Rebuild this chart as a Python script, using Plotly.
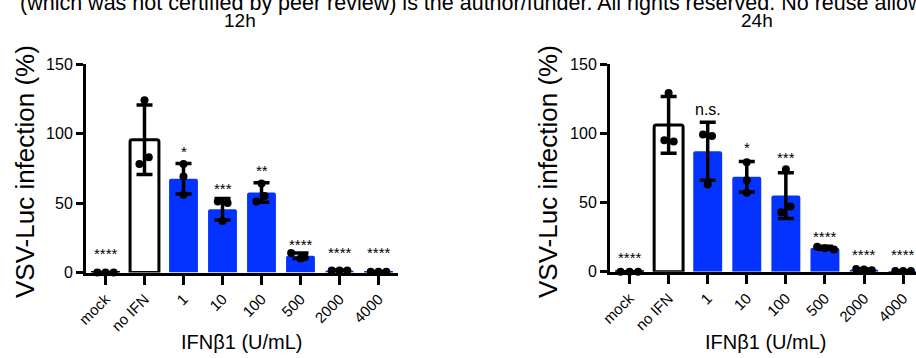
import plotly.graph_objects as go

# ---------------- data ----------------
categories = ["mock", "no IFN", "1", "10", "100", "500", "2000", "4000"]

mean_12h = [0, 95.5, 67.5, 45.5, 57.5, 12.0, 1.5, 0.5]
sd_12h = [0, 25.0, 11.0, 7.8, 7.0, 2.0, 0.3, 0.2]
pts_12h = [
    [0, 0, 0],
    [124, 78, 83],
    [78, 69, 56],
    [51, 50, 37],
    [64, 55, 51],
    [14, 11, 10],
    [1.5, 1.5, 1.5],
    [0.5, 0.5, 0.5],
]
sig_12h = ["****", "", "*", "***", "**", "****", "****", "****"]

mean_24h = [0, 106.0, 87.0, 68.5, 55.0, 17.3, 1.5, 0.5]
sd_24h = [0, 20.5, 21.0, 11.0, 16.5, 1.0, 0.5, 0.2]
pts_24h = [
    [0, 0, 0],
    [129, 95, 94],
    [99, 98, 63],
    [79, 66, 57],
    [74, 47, 43],
    [18, 17, 16],
    [2, 1.5, 1],
    [0.5, 0.5, 0.5],
]
sig_24h = ["****", "", "n.s.", "*", "***", "****", "****", "****"]

header_text = ("(which was not certified by peer review) is the author/funder. "
               "All rights reserved. No reuse allowed without permission.")

# ---------------- style / layout constants ----------------
FONT = "Liberation Sans, Arial, Helvetica, sans-serif"
BLUE = "rgb(4,51,255)"
# horizontal jitter of replicate dots (layout only)
jit_12h = [[-0.21, 0, 0.21], [0, -0.13, 0.11], [0, 0, 0], [-0.12, 0.13, 0],
           [0, 0.08, -0.13], [-0.24, 0.1, 0], [-0.2, 0, 0.2], [-0.2, 0, 0.2]]
jit_24h = [[-0.23, 0, 0.22], [0, -0.11, 0.13], [-0.12, 0.11, 0], [0, 0, 0],
           [0, 0.12, -0.12], [-0.2, 0, 0.23], [-0.2, 0, 0.2], [-0.2, 0, 0.2]]
# y positions of the significance labels (data units, glyph centre)
sig_y_12h = [14.9, None, 88.2, 61.8, 74.5, 21.4, 15.9, 15.9]
sig_y_24h = [12.0, None, 117.3, 91.5, 83.8, 27.2, 14.0, 14.0]

fig = go.Figure()

panels = [
    ("x", "y", mean_12h, sd_12h, pts_12h, jit_12h, sig_12h, sig_y_12h),
    ("x2", "y2", mean_24h, sd_24h, pts_24h, jit_24h, sig_24h, sig_y_24h),
]

ann = []
for xa, ya, means, sds, pts, jit, sig, sigy in panels:
    xs = list(range(len(categories)))
    fills = ["white" if c in ("mock", "no IFN") else BLUE for c in categories]
    lines = ["black" if c in ("mock", "no IFN") else BLUE for c in categories]
    lw = [3 if c in ("mock", "no IFN") else 0 for c in categories]
    fig.add_trace(go.Bar(
        x=xs, y=means, xaxis=xa, yaxis=ya, width=0.74,
        marker=dict(color=fills, line=dict(color=lines, width=lw), cornerradius=2),
        error_y=dict(type="data", array=sds, visible=True, color="black",
                     thickness=3.5, width=8),
        showlegend=False, hoverinfo="skip",
    ))
    px, py = [], []
    for i, (vals, offs) in enumerate(zip(pts, jit)):
        for v, o in zip(vals, offs):
            px.append(i + o)
            py.append(v)
    fig.add_trace(go.Scatter(
        x=px, y=py, xaxis=xa, yaxis=ya, mode="markers",
        marker=dict(color="black", size=8), cliponaxis=False,
        showlegend=False, hoverinfo="skip",
    ))
    for i, (s, yy) in enumerate(zip(sig, sigy)):
        if not s:
            continue
        ann.append(dict(
            x=i, y=yy, xref=xa, yref=ya, text=s, showarrow=False,
            xanchor="center", yanchor="middle",
            yshift=(-2 if s != "n.s." else 0),
            font=dict(family=FONT, size=15 if s != "n.s." else 16, color="black"),
        ))

axis_common = dict(
    showline=True, linewidth=3, linecolor="black", showgrid=False,
    zeroline=False, ticks="outside", tickcolor="black", tickwidth=3,
    automargin=False,
)

W, H = 916, 358
fig.update_layout(
    width=W, height=H,
    margin=dict(l=0, r=0, t=0, b=0, autoexpand=False),
    paper_bgcolor="white", plot_bgcolor="white",
    font=dict(family=FONT, color="black"),
    title=dict(text=header_text, x=20 / W, xanchor="left", xref="container",
               y=1 - 2.5 / H, yanchor="middle", yref="container",
               font=dict(family=FONT, size=21.5, color="black")),
    xaxis=dict(domain=[86 / W, 398 / W], range=[-0.5, 7.5], anchor="y",
               tickvals=list(range(len(categories))), ticktext=categories,
               tickangle=-45, ticklen=9, tickfont=dict(size=15), **axis_common),
    yaxis=dict(domain=[1 - 272.5 / H, 1 - 64 / H], range=[0, 150], anchor="x",
               tickvals=[0, 50, 100, 150], ticklen=7,
               tickfont=dict(size=16), **axis_common),
    xaxis2=dict(domain=[610 / W, 1.0], range=[-0.5, 7.33], anchor="y2",
                tickvals=list(range(len(categories))), ticktext=categories,
                tickangle=-45, ticklen=9, tickfont=dict(size=15), **axis_common),
    yaxis2=dict(domain=[1 - 271.7 / H, 1 - 64 / H], range=[0, 150], anchor="x2",
                tickvals=[0, 50, 100, 150], ticklen=7,
                tickfont=dict(size=16), **axis_common),
)

# titles, axis titles
def pap(xpx, ypx):
    return xpx / W, 1 - ypx / H

texts = [
    ("12h", 240, 20, 19, "center", 0),
    ("24h", 757, 20, 19, "center", 0),
    ("VSV-Luc infection (%)", 25, 172, 26, "center", -90),
    ("VSV-Luc infection (%)", 548, 172, 26, "center", -90),
    ("IFN\u03b21 (U/mL)", 242, 342, 20, "center", 0),
    ("IFN\u03b21 (U/mL)", 766, 342, 20, "center", 0),
]
for t, xp, yp, fs, xa, ang in texts:
    xx, yy = pap(xp, yp)
    ann.append(dict(x=xx, y=yy, xref="paper", yref="paper", text=t,
                    showarrow=False, xanchor=xa, yanchor="middle",
                    textangle=ang, font=dict(family=FONT, size=fs, color="black")))

fig.update_layout(annotations=ann)
fig.write_html(
    "out.html",
    config={"displayModeBar": False, "responsive": False},
    post_script="document.body.style.margin='0';document.body.style.padding='0';"
                "document.body.style.overflow='hidden';",
)
